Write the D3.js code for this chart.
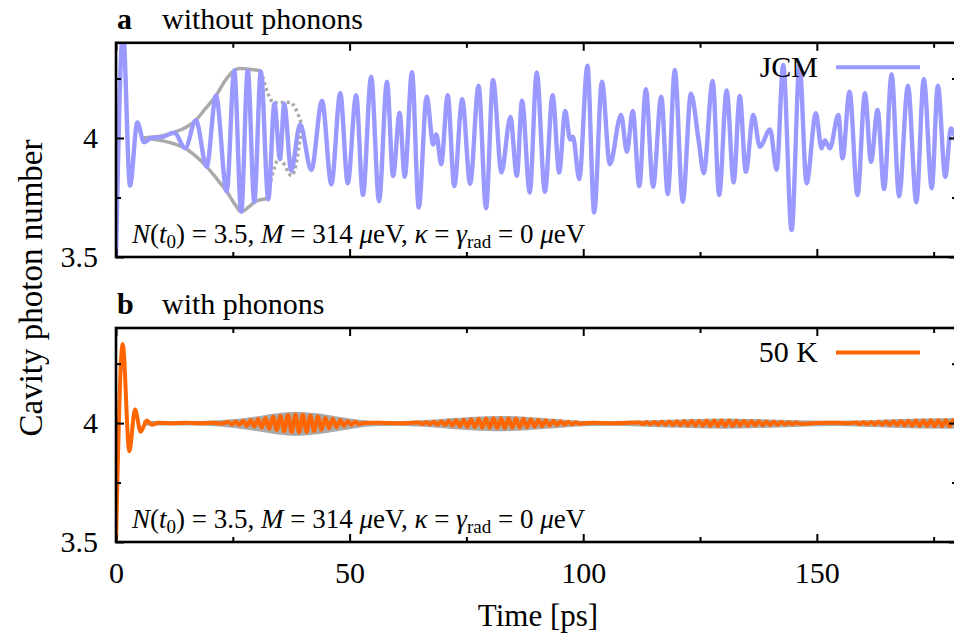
<!DOCTYPE html>
<html lang="en">
<head>
<meta charset="UTF-8">
<title>Cavity photon number</title>
<style>
  body { margin: 0; background: #fff; }
  svg { display: block; font-family: "Liberation Serif", "DejaVu Serif", serif; }
  .label { fill: #000; }
</style>
</head>
<body>
<svg id="chart" width="954" height="637"></svg>

<script src="https://d3js.org/d3.v7.min.js"></script>
<script>
// tick values
const timeMajor = [0, 50, 100, 150];
const timeMinor = [25, 75, 125, 175];
const photonMajor = [3.5, 4];
const photonMinor = [3.75, 4.25];

// panel a: JCM, extrema
const jcmTime = [0, 1.5, 3.0, 4.56, 6.0, 7.5, 10.0, 12.5, 14.8, 17.1, 19.4, 21.4, 23.7, 25.3, 26.8, 28.2, 29.6, 31.0,
  32.6, 33.9, 35.1, 36.0, 37.5, 39.4, 41.8, 44.1, 46.1, 48.0, 49.6, 51.4, 52.85, 54.6, 56.3, 58.0, 59.3, 60.7,
  61.8, 63.35, 64.8, 66.5, 67.9, 68.55, 69.6, 71.0, 72.4, 74.1, 75.8, 77.6, 79.2, 80.7, 82.5, 84.4, 85.8, 86.9,
  88.55, 90.05, 91.8, 93.45, 94.85, 96.15, 97.2, 97.8, 99.15, 100.9, 102.35, 104.0, 105.7, 108.1, 109.35, 110.6,
  112.0, 113.4, 114.95, 116.7, 118.1, 119.6, 121.3, 123.05, 124.7, 125.8, 127.7, 129.1, 130.7, 132.2, 133.5,
  134.8, 136.4, 137.8, 140.0, 141.4, 142.8, 144.6, 146.3, 147.8, 149.8, 151.0, 151.7, 152.8, 154.6, 155.5, 157.0,
  158.7, 160.3, 161.6, 163.0, 164.4, 166.0, 167.6, 169.5, 171.3, 172.9, 174.6, 175.9, 177.5, 178.7, 180.0];
const jcmPhotons = [3.50, 4.45, 3.80, 4.065, 3.982, 4.000, 4.005, 4.022, 3.957, 4.075, 3.880, 4.178, 3.775, 4.284, 3.691, 4.284, 3.733, 4.280,
  3.742, 4.145, 3.912, 4.144, 3.863, 4.057, 3.866, 4.156, 3.805, 4.188, 3.810, 4.180, 3.760, 4.258, 3.735, 4.237, 3.840, 4.105,
  3.837, 4.276, 3.708, 4.174, 3.972, 4.016, 3.890, 4.180, 3.798, 4.163, 3.808, 4.220, 3.705, 4.244, 3.855, 4.088, 3.841, 4.157,
  3.771, 4.275, 3.774, 4.180, 3.855, 4.114, 3.993, 4.005, 3.827, 4.304, 3.687, 4.237, 3.890, 4.097, 3.942, 4.114,
  3.797, 4.205, 3.795, 4.174, 3.764, 4.286, 3.732, 4.187, 3.990, 3.852, 4.240, 3.760, 4.200, 3.813, 4.177,
  3.858, 4.097, 3.963, 4.036, 3.866, 4.307, 3.613, 4.307, 3.810, 4.104, 3.957, 3.990, 3.957, 4.097, 3.915, 4.195,
  3.760, 4.188, 3.900, 4.118, 3.785, 4.268, 3.755, 4.220, 3.730, 4.248, 3.789, 4.220, 3.837, 4.040, 3.970];

// panel a: grey envelopes
const envUpTime = [5.5, 8, 10, 12.5, 15, 17.1, 19, 21.4, 23.5, 25.3, 26.5, 28, 31.0];
const envUpPhotons = [4.0, 4.004, 4.010, 4.024, 4.045, 4.075, 4.12, 4.178, 4.245, 4.284, 4.292, 4.290, 4.283];
const envLowTime = [5.5, 8, 10, 12.5, 14.8, 17, 19.4, 21.5, 23.7, 25.5, 26.8, 28.5, 30, 32.3];
const envLowPhotons = [4.0, 3.995, 3.988, 3.975, 3.957, 3.925, 3.880, 3.830, 3.775, 3.720, 3.690, 3.712, 3.735, 3.745];
const dotUpTime = [31.0, 33.9, 37.2, 39.8];
const dotUpPhotons = [4.283, 4.148, 4.150, 4.055];
const dotLowTime = [32.3, 35.0, 37.6, 39.8];
const dotLowPhotons = [3.745, 3.912, 3.842, 4.055];

// panel b: 50 K, extrema
const phononTime = [0, 1.43, 2.85, 4.07, 5.28, 6.6, 7.7, 9.0, 12, 15, 18, 21, 22.5,
  24.0, 24.8, 25.6, 26.4, 27.2, 28.0, 28.8, 29.6, 30.4, 31.2, 32.0, 32.8, 33.6, 34.4, 35.2, 36.0, 36.8, 37.6,
  38.4, 39.2, 40.0, 40.8, 41.6, 42.4, 43.2, 44.0, 44.8, 45.6, 46.4, 47.2, 48.0, 48.8, 49.6, 50.4, 51.2, 52.0,
  53.0, 56, 60, 63,
  64.8, 65.6, 66.4, 67.2, 68.0, 68.8, 69.6, 70.4, 71.2, 72.0, 72.8, 73.6, 74.4, 75.2, 76.0, 76.8, 77.6, 78.4,
  79.2, 80.0, 80.8, 81.6, 82.4, 83.2, 84.0, 84.8, 85.6, 86.4, 87.2, 88.0, 88.8, 89.6, 90.4, 91.2, 92.0, 92.8,
  93.6, 94.4, 95.2, 96.0, 96.8, 97.6, 98.4, 99.2,
  102, 106, 110,
  112.0, 112.8, 113.6, 114.4, 115.2, 116.0, 116.8, 117.6, 118.4, 119.2, 120.0, 120.8, 121.6, 122.4, 123.2,
  124.0, 124.8, 125.6, 126.4, 127.2, 128.0, 128.8, 129.6, 130.4, 131.2, 132.0, 132.8, 133.6, 134.4, 135.2,
  136.0, 136.8, 137.6, 138.4, 139.2, 140.0, 140.8, 141.6, 142.4, 143.2, 144.0, 144.8, 145.6, 146.4,
  150, 154, 157,
  158.4, 159.2, 160.0, 160.8, 161.6, 162.4, 163.2, 164.0, 164.8, 165.6, 166.4, 167.2, 168.0, 168.8, 169.6,
  170.4, 171.2, 172.0, 172.8, 173.6, 174.4, 175.2, 176.0, 176.8, 177.6, 178.4, 179.2, 180.0];
const phononPhotons = [3.50, 4.333, 3.882, 4.057, 3.964, 4.011, 3.993, 4.002, 3.999, 4.001, 3.999, 4.001, 3.998,
  4.005, 3.994, 4.007, 3.992, 4.010, 3.988, 4.013, 3.985, 4.017, 3.981, 4.022, 3.976, 4.027, 3.971, 4.031, 3.966, 4.034, 3.962,
  4.036, 3.961, 4.035, 3.963, 4.032, 3.967, 4.028, 3.972, 4.023, 3.978, 4.018, 3.983, 4.013, 3.988, 4.009, 3.992, 4.006, 3.995,
  4.000, 4.001, 3.999, 4.001,
  4.003, 3.996, 4.004, 3.995, 4.006, 3.993, 4.008, 3.991, 4.010, 3.989, 4.012, 3.987, 4.014, 3.985, 4.016, 3.983, 4.018, 3.981,
  4.019, 3.980, 4.020, 3.979, 4.020, 3.979, 4.020, 3.980, 4.019, 3.981, 4.018, 3.983, 4.016, 3.985, 4.014, 3.987, 4.012, 3.989,
  4.010, 3.991, 4.008, 3.993, 4.006, 3.995, 4.004, 3.997,
  4.001, 3.999, 4.001,
  4.003, 3.996, 4.004, 3.995, 4.005, 3.994, 4.006, 3.993, 4.007, 3.992, 4.008, 3.991, 4.009, 3.990, 4.010,
  3.989, 4.010, 3.989, 4.011, 3.988, 4.011, 3.988, 4.011, 3.988, 4.011, 3.988, 4.010, 3.989, 4.010, 3.989,
  4.009, 3.990, 4.008, 3.991, 4.007, 3.992, 4.006, 3.993, 4.005, 3.994, 4.004, 3.995, 4.003, 3.997,
  4.000, 4.001, 3.999,
  4.003, 3.996, 4.004, 3.995, 4.005, 3.994, 4.006, 3.993, 4.007, 3.992, 4.008, 3.991, 4.009, 3.990, 4.010,
  3.989, 4.011, 3.988, 4.011, 3.988, 4.012, 3.987, 4.012, 3.987, 4.012, 3.987, 4.012, 3.988];

// panel b: grey band behind the 50 K curve
const bandTime = [6, 10, 16, 22, 26, 30, 34, 38.5, 43, 47, 51, 55, 60, 64, 68, 72, 76, 82, 88, 92, 96, 100,
  106, 112, 118, 124, 130, 136, 142, 148, 154, 160, 166, 172, 180];
const bandUpper = [4.006, 4.005, 4.005, 4.008, 4.014, 4.024, 4.036, 4.044, 4.037, 4.025, 4.013, 4.006, 4.005, 4.007,
  4.011, 4.017, 4.022, 4.026, 4.022, 4.016, 4.010, 4.006, 4.005, 4.007, 4.010, 4.013, 4.015, 4.013, 4.010, 4.007,
  4.006, 4.008, 4.012, 4.015, 4.017];
const bandLower = [3.993, 3.994, 3.994, 3.990, 3.982, 3.971, 3.958, 3.950, 3.957, 3.969, 3.982, 3.991, 3.993, 3.990,
  3.986, 3.979, 3.974, 3.970, 3.974, 3.980, 3.986, 3.991, 3.993, 3.990, 3.986, 3.983, 3.981, 3.983, 3.986, 3.990,
  3.992, 3.989, 3.985, 3.982, 3.980];

const blue = "#9999ff", orange = "#ff6600", grey = "#aaaaaa";
const svg = d3.select("#chart");
const left = 116, right = 957;

const x = d3.scaleLinear().domain([0, 180]).range([left, right]);

const panels = [
  { id: "a", top: 42.8, bottom: 257, title: "without phonons", legend: "JCM", color: blue },
  { id: "b", top: 328, bottom: 542, title: "with phonons", legend: "50 K", color: orange }
];
panels.forEach(p => {
  p.y = d3.scaleLinear().domain([3.5, 4.4]).range([p.bottom, p.top]);
});

const zip = (a, b) => a.map((t, i) => [t, b[i]]);

function styleAxis(g) {
  g.select(".domain").remove();
  g.selectAll(".tick line").attr("stroke", "#000").attr("stroke-width", 2);
  g.selectAll(".tick text")
    .attr("font-family", "'Liberation Serif', serif")
    .attr("font-size", 30)
    .attr("fill", "#000");
  g.attr("font-family", null).attr("font-size", null);
}

panels.forEach((p, i) => {
  const y = p.y;
  const g = svg.append("g");

  g.append("clipPath").attr("id", "clip-" + p.id)
    .append("rect")
    .attr("x", left).attr("y", p.top)
    .attr("width", right - left).attr("height", p.bottom - p.top);

  const plot = g.append("g").attr("clip-path", `url(#clip-${p.id})`);
  const line = d3.line().x(d => x(d[0])).y(d => y(d[1])).curve(d3.curveMonotoneX);

  if (p.id === "a") {
    plot.append("path").attr("d", line(zip(envUpTime, envUpPhotons)))
      .attr("fill", "none").attr("stroke", grey).attr("stroke-width", 3.5);
    plot.append("path").attr("d", line(zip(envLowTime, envLowPhotons)))
      .attr("fill", "none").attr("stroke", grey).attr("stroke-width", 3.5);
    plot.append("path").attr("d", line(zip(dotUpTime, dotUpPhotons)))
      .attr("fill", "none").attr("stroke", grey).attr("stroke-width", 3.5).attr("stroke-dasharray", "3,3");
    plot.append("path").attr("d", line(zip(dotLowTime, dotLowPhotons)))
      .attr("fill", "none").attr("stroke", grey).attr("stroke-width", 3.5).attr("stroke-dasharray", "3,3");
    plot.append("path").attr("d", line(zip(jcmTime, jcmPhotons)))
      .attr("fill", "none").attr("stroke", blue).attr("stroke-width", 4.4)
      .attr("stroke-linejoin", "round");
  } else {
    const band = d3.area().x(d => x(d[0])).y0(d => y(d[2])).y1(d => y(d[1])).curve(d3.curveMonotoneX);
    plot.append("path").attr("d", band(bandTime.map((t, k) => [t, bandUpper[k], bandLower[k]])))
      .attr("fill", grey).attr("stroke", grey).attr("stroke-width", 2);
    plot.append("path").attr("d", line(zip(phononTime, phononPhotons)))
      .attr("fill", "none").attr("stroke", orange).attr("stroke-width", 4)
      .attr("stroke-linejoin", "round");
  }

  // ticks, all pointing inward
  g.append("g").attr("transform", `translate(${left},0)`)
    .call(d3.axisLeft(y).tickValues(photonMajor).tickSize(-8).tickPadding(18).tickFormat(d3.format("~g")))
    .call(styleAxis);
  g.append("g").attr("transform", `translate(${left},0)`)
    .call(d3.axisLeft(y).tickValues(photonMinor).tickSize(-5).tickFormat(() => ""))
    .call(styleAxis);
  g.append("g").attr("transform", `translate(${right},0)`)
    .call(d3.axisRight(y).tickValues(photonMajor).tickSize(-8).tickFormat(() => ""))
    .call(styleAxis);
  g.append("g").attr("transform", `translate(${right},0)`)
    .call(d3.axisRight(y).tickValues(photonMinor).tickSize(-5).tickFormat(() => ""))
    .call(styleAxis);
  g.append("g").attr("transform", `translate(0,${p.bottom})`)
    .call(d3.axisBottom(x).tickValues(timeMajor).tickSize(-8).tickPadding(20)
      .tickFormat(i === 1 ? d3.format("d") : () => ""))
    .call(styleAxis);
  g.append("g").attr("transform", `translate(0,${p.bottom})`)
    .call(d3.axisBottom(x).tickValues(timeMinor).tickSize(-5).tickFormat(() => ""))
    .call(styleAxis);
  g.append("g").attr("transform", `translate(0,${p.top})`)
    .call(d3.axisTop(x).tickValues(timeMajor).tickSize(-8).tickFormat(() => ""))
    .call(styleAxis);
  g.append("g").attr("transform", `translate(0,${p.top})`)
    .call(d3.axisTop(x).tickValues(timeMinor).tickSize(-5).tickFormat(() => ""))
    .call(styleAxis);

  // frame
  g.append("rect")
    .attr("x", left).attr("y", p.top)
    .attr("width", right - left).attr("height", p.bottom - p.top)
    .attr("fill", "none").attr("stroke", "#000").attr("stroke-width", 2.6);

  // panel title
  const title = g.append("text").attr("class", "label")
    .attr("x", 117).attr("y", p.top - 14).attr("font-size", 30);
  title.append("tspan").attr("font-weight", "bold").text(p.id);
  title.append("tspan").attr("x", 162).text(p.title);

  // legend
  g.append("text").attr("class", "label")
    .attr("x", 818).attr("y", p.top + 34)
    .attr("text-anchor", "end").attr("font-size", 30)
    .text(p.legend);
  g.append("line")
    .attr("x1", 836).attr("x2", 920)
    .attr("y1", p.top + 24.5).attr("y2", p.top + 24.5)
    .attr("stroke", p.color).attr("stroke-width", 4);

  // parameter note
  const note = g.append("text").attr("class", "label")
    .attr("x", 132).attr("y", p.bottom - 14).attr("font-size", 27);
  note.append("tspan").attr("font-style", "italic").text("N");
  note.append("tspan").text("(");
  note.append("tspan").attr("font-style", "italic").text("t");
  note.append("tspan").attr("font-size", 19).attr("dy", 5).text("0");
  note.append("tspan").attr("dy", -5).text(") = 3.5, ");
  note.append("tspan").attr("font-style", "italic").text("M");
  note.append("tspan").text(" = 314 ");
  note.append("tspan").attr("font-style", "italic").text("μ");
  note.append("tspan").text("eV, ");
  note.append("tspan").attr("font-style", "italic").text("κ");
  note.append("tspan").text(" = ");
  note.append("tspan").attr("font-style", "italic").text("γ");
  note.append("tspan").attr("font-size", 19).attr("dy", 5).text("rad");
  note.append("tspan").attr("dy", -5).text(" = 0 ");
  note.append("tspan").attr("font-style", "italic").text("μ");
  note.append("tspan").text("eV");
});

// axis titles
svg.append("text").attr("class", "label")
  .attr("x", 538).attr("y", 626)
  .attr("text-anchor", "middle").attr("font-size", 31)
  .text("Time [ps]");
svg.append("text").attr("class", "label")
  .attr("transform", "translate(42,288) rotate(-90)")
  .attr("text-anchor", "middle").attr("font-size", 33)
  .text("Cavity photon number");
</script>
</body>
</html>
